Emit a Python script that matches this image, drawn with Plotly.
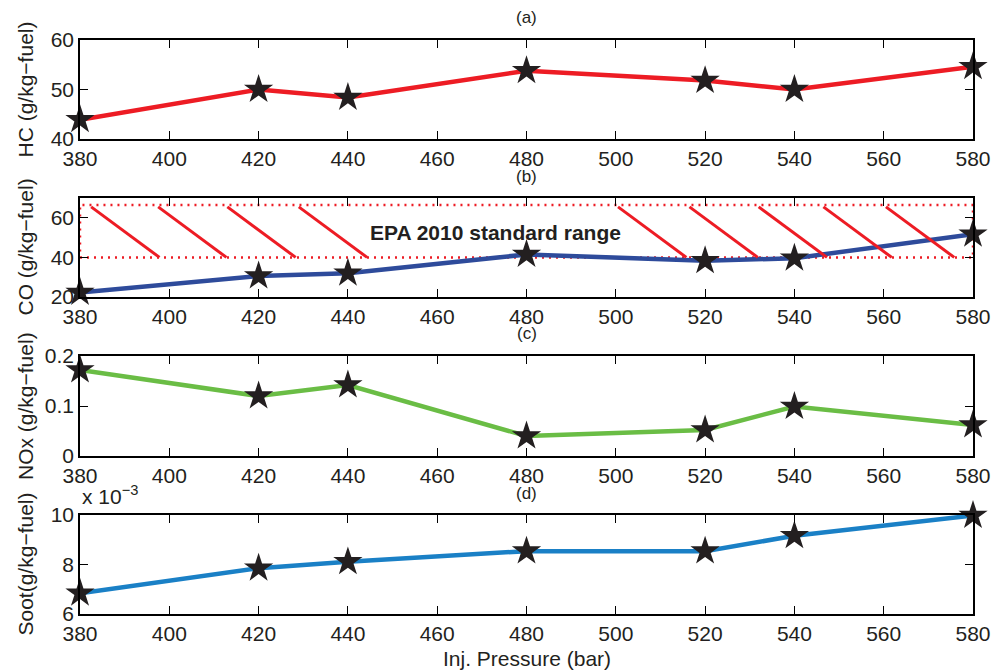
import plotly.graph_objects as go

# ---- data ----
pressure = [380, 420, 440, 480, 520, 540, 580]
hc = [43.9, 50.0, 48.4, 53.8, 51.8, 50.0, 54.6]
co = [22.3, 30.6, 32.0, 41.5, 38.3, 39.6, 51.7]
nox = [0.172, 0.120, 0.142, 0.040, 0.052, 0.099, 0.062]
soot = [6.84e-3, 7.85e-3, 8.11e-3, 8.54e-3, 8.54e-3, 9.16e-3, 9.98e-3]

epa_low, epa_high = 40, 66.5
hatch_start = [382.5, 397.5, 413, 429, 500.5, 516.5, 532, 546.5, 560.5]
hatch_len = 15.3
hatch_top, hatch_bottom = 65.5, 40

x_ticks = [380, 400, 420, 440, 460, 480, 500, 520, 540, 560, 580]
panel_labels = ["(a)", "(b)", "(c)", "(d)"]
y_titles = ["HC (g/kg\u2212fuel)", "CO (g/kg\u2212fuel)", "NOx (g/kg\u2212fuel)", "Soot(g/kg\u2212fuel)"]

W, H = 995, 670
TXT = "#231f20"
FONT = "Liberation Sans, Arial, sans-serif"

# pixel layout of panels (top, bottom)
panels_px = [(40, 139), (198, 297), (356, 456), (515, 614)]
x_px = (80, 973)

fig = go.Figure()

star = dict(symbol="star", size=22, color=TXT, line=dict(width=0))

series = [
    (hc, "#ed1c24"),
    (co, "#2e4b9b"),
    (nox, "#6abd45"),
    (soot, "#1a80c6"),
]

# hatch + dotted box for panel b
hx, hy = [], []
for s in hatch_start:
    hx += [s, s + hatch_len, None]
    hy += [hatch_top, hatch_bottom, None]
fig.add_trace(go.Scatter(x=[380, 580, 580, 380, 380], y=[epa_low, epa_low, epa_high, epa_high, epa_low],
                         mode="lines", line=dict(color="#ed1c24", width=2.5, dash="2px,5px"),
                         xaxis="x2", yaxis="y2", showlegend=False, hoverinfo="skip"))

for i, (vals, col) in enumerate(series):
    k = "" if i == 0 else str(i + 1)
    fig.add_trace(go.Scatter(x=pressure, y=vals, mode="lines+markers",
                             line=dict(color=col, width=4.5), marker=star,
                             xaxis="x" + k, yaxis="y" + k, showlegend=False, cliponaxis=False))

fig.add_trace(go.Scatter(x=hx, y=hy, mode="lines", line=dict(color="#ed1c24", width=3),
                         xaxis="x2", yaxis="y2", showlegend=False, hoverinfo="skip"))

y_ranges = [[40, 60], [20, 70], [0, 0.2], [0.006, 0.010]]
y_tickvals = [[40, 50, 60], [20, 40, 60], [0, 0.1, 0.2], [0.006, 0.008, 0.010]]
y_ticktext = [["40", "50", "60"], ["20", "40", "60"], ["0", "0.1", "0.2"], ["6", "8", "10"]]

axis_common = dict(showline=True, linecolor="black", linewidth=1.5, mirror="ticks",
                   ticks="inside", ticklen=8, tickcolor="black", tickwidth=1.2,
                   showgrid=False, zeroline=False, automargin=False,
                   tickfont=dict(family=FONT, size=21, color=TXT))

layout = dict(width=W, height=H, margin=dict(l=0, r=0, t=0, b=0, autoexpand=False),
              paper_bgcolor="white", plot_bgcolor="white", showlegend=False,
              template="none")

xd = [x_px[0] / W, x_px[1] / W]
annotations = []
for i, (top, bot) in enumerate(panels_px):
    k = "" if i == 0 else str(i + 1)
    yd = [1 - bot / H, 1 - top / H]
    layout["xaxis" + k] = dict(domain=xd, range=[380, 580], tickvals=x_ticks,
                               anchor="y" + k, **axis_common)
    layout["yaxis" + k] = dict(domain=yd, range=y_ranges[i], tickvals=y_tickvals[i],
                               ticktext=y_ticktext[i], anchor="x" + k, **axis_common)
    annotations.append(dict(text=panel_labels[i], x=480, xref="x" + k, y=1 - (top - 22) / H,
                            yref="paper", showarrow=False, xanchor="center", yanchor="middle",
                            font=dict(family=FONT, size=17, color=TXT)))
    annotations.append(dict(text=y_titles[i], x=25 / W, xref="paper", y=1 - (top + bot) / 2 / H,
                            yref="paper", textangle=-90, showarrow=False, xanchor="center",
                            yanchor="middle", font=dict(family=FONT, size=21, color=TXT)))

annotations.append(dict(text="EPA 2010 standard range", x=473, xref="x2", y=52.5, yref="y2",
                        showarrow=False, xanchor="center", yanchor="middle",
                        font=dict(family=FONT, size=21, color=TXT, weight="bold")))
annotations.append(dict(text="x 10<sup>\u22123</sup>", x=80 / W, xref="paper", y=1 - 510 / H,
                        yref="paper", showarrow=False, xanchor="left", yanchor="bottom",
                        font=dict(family=FONT, size=21, color=TXT)))
annotations.append(dict(text="Inj. Pressure (bar)", x=527 / W, xref="paper", y=1 - 658 / H,
                        yref="paper", showarrow=False, xanchor="center", yanchor="middle",
                        font=dict(family=FONT, size=21, color=TXT)))
layout["annotations"] = annotations

fig.update_layout(**layout)
fig.write_html("out.html")
